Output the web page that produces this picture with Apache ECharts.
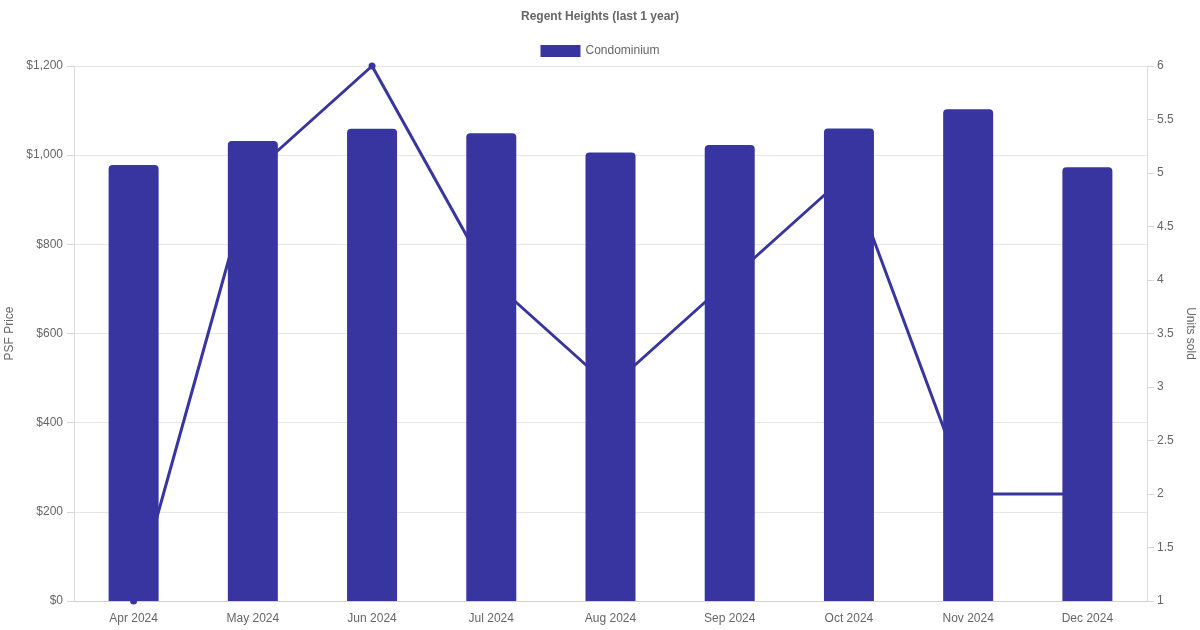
<!DOCTYPE html>
<html><head><meta charset="utf-8">
<script src="https://cdn.jsdelivr.net/npm/echarts@6/dist/echarts.min.js"></script>
<style>html,body{margin:0;padding:0;background:#fff}#c{width:1200px;height:630px}</style>
</head><body><div id="c"></div>
<script>
const categories = ['Apr 2024','May 2024','Jun 2024','Jul 2024','Aug 2024','Sep 2024','Oct 2024','Nov 2024','Dec 2024'];
const psfPrice = [978, 1032, 1059, 1049, 1006, 1023, 1060, 1103, 973];
const unitsSold = [1, 5, 6, 4, 3, 4, 5, 2, 2];
const leftTicks = {min: 0, max: 1200, interval: 200};
const rightTicks = {min: 1, max: 6, interval: 0.5};

const color = '#3935a0';
const font = 'Liberation Sans, Arial, sans-serif';
const chart = echarts.init(document.getElementById('c'));
chart.setOption({
  animation: false,
  textStyle: {fontFamily: font},
  title: {text: 'Regent Heights (last 1 year)', left: 'center', top: 6,
    textStyle: {fontSize: 12, fontWeight: 'bold', color: '#666', fontFamily: font}},
  legend: {top: 40, left: 'center', itemWidth: 40, itemHeight: 12, itemGap: 6,
    data: [{name: 'Condominium', icon: 'rect'}],
    textStyle: {fontSize: 12, color: '#666', fontFamily: font}},
  grid: {left: 74, right: 53, top: 66, bottom: 29, containLabel: false, outerBoundsMode: 'none'},
  xAxis: {type: 'category', data: categories,
    axisLine: {lineStyle: {color: '#d0d0d0'}}, axisTick: {show: false},
    axisLabel: {color: '#666', fontSize: 12, margin: 12, fontFamily: font},
    splitLine: {show: false}},
  yAxis: [
    {type: 'value', min: leftTicks.min, max: leftTicks.max, interval: leftTicks.interval,
      name: 'PSF Price', nameLocation: 'middle', nameGap: 52, nameRotate: 90,
      nameTextStyle: {color: '#666', fontSize: 12, fontFamily: font},
      axisLine: {show: true, lineStyle: {color: '#dcdcdc'}},
      axisTick: {show: true, length: 7, lineStyle: {color: '#d6d6d6'}},
      axisLabel: {color: '#666', fontSize: 12, margin: 11, fontFamily: font,
        formatter: v => '$' + v.toLocaleString('en-US')},
      splitLine: {lineStyle: {color: '#e6e6e6'}}},
    {type: 'value', min: rightTicks.min, max: rightTicks.max, interval: rightTicks.interval,
      name: 'Units sold', nameLocation: 'middle', nameGap: 34, nameRotate: -90,
      nameTextStyle: {color: '#666', fontSize: 12, fontFamily: font},
      axisLine: {show: true, lineStyle: {color: '#dcdcdc'}},
      axisTick: {show: true, length: 7, lineStyle: {color: '#d6d6d6'}},
      axisLabel: {color: '#666', fontSize: 12, margin: 10, fontFamily: font},
      splitLine: {show: false}}
  ],
  series: [
    {name: 'Condominium', type: 'bar', data: psfPrice, yAxisIndex: 0, barWidth: 50, z: 3,
      itemStyle: {color: color, borderRadius: [4,4,0,0]}},
    {name: 'Units', type: 'line', data: unitsSold, yAxisIndex: 1, z: 2,
      symbol: 'circle', symbolSize: 7, showSymbol: true,
      lineStyle: {color: color, width: 3}, itemStyle: {color: color}}
  ]
});
</script></body></html>
